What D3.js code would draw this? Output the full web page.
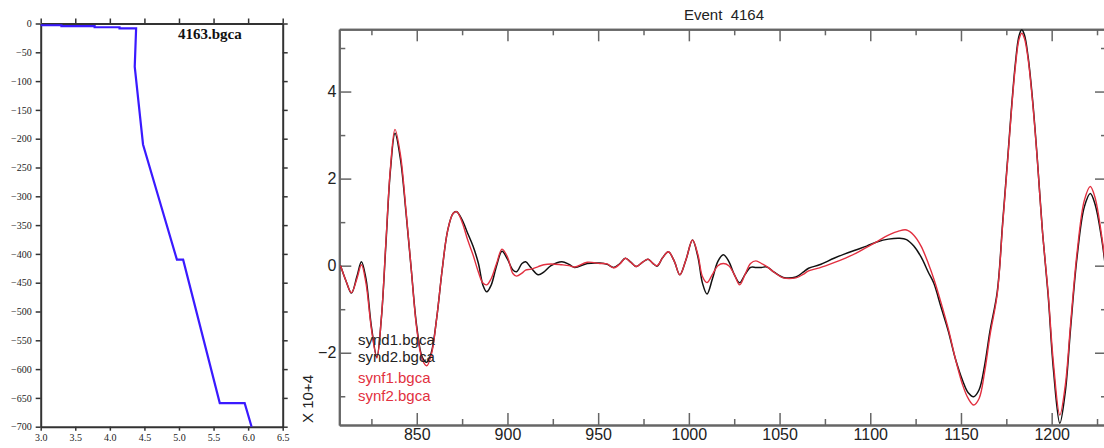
<!DOCTYPE html>
<html>
<head>
<meta charset="utf-8">
<script src="https://cdn.jsdelivr.net/npm/d3@7"></script>
<style>
  body { margin: 0; background: #fff; }
  svg { display: block; }
</style>
</head>
<body>
<div id="chart"></div>
<script>
// ---- data: velocity model (left) ----
const velocity = [3.0, 3.3, 3.3, 3.78, 3.78, 4.14, 4.14, 4.38, 4.36, 4.48, 4.70, 4.97, 5.06, 5.59, 5.95, 6.05];
const depth = [-3, -3, -4.5, -4.5, -6.5, -6.5, -8.5, -8.5, -75, -210, -300, -410, -410, -659, -659, -700];
const depthTicks = [0, -50, -100, -150, -200, -250, -300, -350, -400, -450, -500, -550, -600, -650, -700];
const velTicks = [3.0, 3.5, 4.0, 4.5, 5.0, 5.5, 6.0, 6.5];

// ---- data: waveforms (right), values x 10^4 ----
const time = [808, 811, 814, 817, 819.5, 822, 825, 828, 830.5, 833, 835.5, 838, 841, 844, 847, 850, 853, 855.5, 858, 861,
  864, 867, 870, 872, 875, 878, 881, 884, 886.5, 888.6, 891, 894, 897, 900, 903, 905, 908, 910, 913, 917,
  920, 924, 930, 934, 937, 944, 951, 955, 958.5, 962, 965, 968, 971, 974.5, 977.5, 980, 982.5, 985.5, 988.7, 992,
  995, 998.5, 1002, 1005, 1007.5, 1010, 1013, 1016, 1019, 1022, 1025, 1028, 1031, 1034, 1037, 1040, 1043, 1047, 1052, 1059,
  1063, 1066, 1072, 1080, 1086, 1092, 1098, 1104, 1110, 1116, 1120, 1124, 1128, 1132, 1135, 1139, 1143, 1147, 1151, 1154,
  1157, 1160, 1163, 1166, 1170, 1173, 1176, 1178, 1180, 1182, 1183.5, 1185, 1187, 1189.5, 1192, 1195, 1198, 1201, 1204.5, 1207.5,
  1210.5, 1214, 1218, 1221.3, 1224, 1227.5, 1231];
const synd = [0.00, -0.35, -0.63, -0.25, 0.09, -0.30, -1.40, -2.10, -1.20, 0.50, 2.20, 3.04, 2.45, 1.25, -0.10, -1.40, -2.10, -2.22, -2.00, -1.20,
  -0.10, 0.80, 1.20, 1.24, 1.05, 0.75, 0.45, 0.05, -0.45, -0.60, -0.45, 0.00, 0.33, 0.15, -0.10, -0.14, 0.05, 0.09, -0.05, -0.21,
  -0.15, 0.00, 0.09, 0.03, -0.04, 0.05, 0.06, 0.03, -0.04, 0.05, 0.17, 0.08, -0.02, 0.08, 0.15, 0.06, -0.01, 0.18, 0.32, 0.10,
  -0.21, 0.15, 0.59, 0.20, -0.40, -0.65, -0.30, 0.10, 0.25, 0.10, -0.20, -0.39, -0.20, -0.04, -0.04, -0.04, -0.03, -0.15, -0.27, -0.26,
  -0.15, -0.06, 0.02, 0.17, 0.27, 0.36, 0.45, 0.55, 0.61, 0.63, 0.60, 0.45, 0.20, -0.15, -0.40, -0.95, -1.50, -2.15, -2.65, -2.92,
  -3.01, -2.85, -2.30, -1.50, -0.60, 1.00, 2.60, 3.70, 4.65, 5.28, 5.42, 5.30, 4.80, 3.80, 2.50, 0.75, -0.65, -2.40, -3.62, -2.90,
  -1.40, 0.20, 1.35, 1.66, 1.40, 0.63, -0.50];
const synf = [0.00, -0.35, -0.62, -0.30, 0.02, -0.40, -1.45, -2.12, -1.20, 0.55, 2.25, 3.13, 2.55, 1.30, -0.10, -1.45, -2.15, -2.30, -2.05, -1.20,
  -0.10, 0.80, 1.20, 1.24, 1.00, 0.60, 0.25, -0.15, -0.40, -0.44, -0.30, 0.05, 0.38, 0.20, -0.18, -0.24, -0.17, -0.10, -0.08, -0.02,
  0.02, 0.04, 0.02, 0.00, -0.03, 0.08, 0.05, 0.04, -0.05, 0.04, 0.17, 0.08, -0.02, 0.08, 0.15, 0.06, 0.00, 0.18, 0.32, 0.10,
  -0.21, 0.15, 0.59, 0.25, -0.25, -0.39, -0.20, 0.00, 0.05, 0.00, -0.20, -0.44, -0.20, 0.05, 0.11, 0.05, -0.02, -0.15, -0.28, -0.28,
  -0.20, -0.12, -0.05, 0.07, 0.17, 0.28, 0.42, 0.56, 0.70, 0.80, 0.82, 0.70, 0.45, 0.05, -0.30, -0.85, -1.45, -2.15, -2.75, -3.05,
  -3.20, -3.05, -2.45, -1.60, -0.65, 0.95, 2.55, 3.65, 4.58, 5.20, 5.34, 5.22, 4.75, 3.75, 2.48, 0.75, -0.60, -2.25, -3.43, -2.75,
  -1.30, 0.30, 1.50, 1.82, 1.55, 0.70, -0.40];
const timeMajor = [850, 900, 950, 1000, 1050, 1100, 1150, 1200];
const timeMinor = [825, 875, 925, 975, 1025, 1075, 1125, 1175, 1225];
const ampMajor = [-2, 0, 2, 4];
const ampMinor = [-3, -1, 1, 3, 5];
const legendNames = ["synd1.bgca", "synd2.bgca", "synf1.bgca", "synf2.bgca"];
const legendColors = ["#222", "#222", "#e23040", "#e23040"];

const svg = d3.select("#chart").append("svg")
  .attr("width", 1104)
  .attr("height", 448);

// ================= left panel =================
const xL = d3.scaleLinear().domain([3, 6.5]).range([40.7, 282.7]);
const yL = d3.scaleLinear().domain([-700, 0]).range([426.7, 23.5]);
const left = svg.append("g").attr("font-family", "Liberation Serif, Times New Roman, serif");

const styleAxisL = (g) => {
  g.attr("font-family", "Liberation Serif, serif");
  g.select(".domain").attr("stroke", "#333").attr("stroke-width", 2);
  g.selectAll(".tick line").attr("stroke", "#333").attr("stroke-width", 1.5);
  g.selectAll(".tick text").attr("fill", "#222").attr("font-size", 10);
};

left.append("g").attr("transform", `translate(0,${yL(-700)})`)
  .call(d3.axisBottom(xL).tickValues(velTicks).tickFormat(d3.format(".1f")).tickSize(4).tickSizeOuter(0).tickPadding(3))
  .call(styleAxisL);
left.append("g").attr("transform", `translate(0,${yL(0)})`)
  .call(d3.axisTop(xL).tickValues(velTicks).tickFormat("").tickSize(5).tickSizeOuter(0))
  .call(styleAxisL);
left.append("g").attr("transform", `translate(${xL(3)},0)`)
  .call(d3.axisLeft(yL).tickValues(depthTicks).tickSize(5).tickSizeOuter(0).tickPadding(4))
  .call(styleAxisL);
left.append("g").attr("transform", `translate(${xL(6.5)},0)`)
  .call(d3.axisRight(yL).tickValues(depthTicks).tickFormat("").tickSize(5).tickSizeOuter(0))
  .call(styleAxisL);

left.append("path")
  .datum(d3.zip(velocity, depth))
  .attr("fill", "none")
  .attr("stroke", "#3a1aff")
  .attr("stroke-width", 2.2)
  .attr("d", d3.line().x((d) => xL(d[0])).y((d) => yL(d[1])));

left.append("text")
  .attr("x", 178).attr("y", 39)
  .attr("font-size", 15).attr("font-weight", "bold")
  .attr("fill", "#111")
  .text("4163.bgca");

// ================= right panel =================
const xR = d3.scaleLinear().domain([807.3, 1230.5]).range([339.3, 1107]);
const yR = d3.scaleLinear().domain([-3.66, 5.43]).range([425, 29.3]);
const right = svg.append("g").attr("font-family", "Liberation Sans Narrow, Liberation Sans, Arial, sans-serif");
const axisCol = "#666";

const styleAxisR = (g) => {
  g.attr("font-family", "Liberation Sans Narrow, Liberation Sans, sans-serif");
  g.select(".domain").attr("stroke", axisCol).attr("stroke-width", 2);
  g.selectAll(".tick line").attr("stroke", axisCol).attr("stroke-width", 1.5);
  g.selectAll(".tick text").attr("fill", "#222").attr("font-size", 16);
};

// bottom
right.append("g").attr("transform", `translate(0,${yR.range()[0]})`)
  .call(d3.axisBottom(xR).tickValues(timeMajor).tickFormat(d3.format("d")).tickSize(-12).tickSizeOuter(0).tickPadding(4))
  .call(styleAxisR);
right.append("g").attr("transform", `translate(0,${yR.range()[0]})`)
  .call(d3.axisBottom(xR).tickValues(timeMinor).tickFormat("").tickSize(-6).tickSizeOuter(0))
  .call(styleAxisR);
// top
right.append("g").attr("transform", `translate(0,${yR.range()[1]})`)
  .call(d3.axisTop(xR).tickValues(timeMajor).tickFormat("").tickSize(-12).tickSizeOuter(0))
  .call(styleAxisR);
right.append("g").attr("transform", `translate(0,${yR.range()[1]})`)
  .call(d3.axisTop(xR).tickValues(timeMinor).tickFormat("").tickSize(-6).tickSizeOuter(0))
  .call(styleAxisR);
// left
right.append("g").attr("transform", `translate(${xR.range()[0]},0)`)
  .call(d3.axisLeft(yR).tickValues(ampMajor).tickFormat(d3.format("d")).tickSize(-12).tickSizeOuter(0).tickPadding(3))
  .call(styleAxisR);
right.append("g").attr("transform", `translate(${xR.range()[0]},0)`)
  .call(d3.axisLeft(yR).tickValues(ampMinor).tickFormat("").tickSize(-6).tickSizeOuter(0))
  .call(styleAxisR);
// right
right.append("g").attr("transform", `translate(${xR.range()[1]},0)`)
  .call(d3.axisRight(yR).tickValues(ampMajor).tickFormat("").tickSize(-12).tickSizeOuter(0))
  .call(styleAxisR);
right.append("g").attr("transform", `translate(${xR.range()[1]},0)`)
  .call(d3.axisRight(yR).tickValues(ampMinor).tickFormat("").tickSize(-6).tickSizeOuter(0))
  .call(styleAxisR);

right.append("clipPath").attr("id", "clipR")
  .append("rect")
  .attr("x", xR.range()[0]).attr("y", yR.range()[1])
  .attr("width", xR.range()[1] - xR.range()[0])
  .attr("height", yR.range()[0] - yR.range()[1]);

const wave = d3.line().curve(d3.curveCatmullRom.alpha(0.5))
  .x((d) => xR(d[0])).y((d) => yR(d[1]));

const series = [
  { name: "synd", values: synd, color: "#111", width: 1.5 },
  { name: "synf", values: synf, color: "#e23040", width: 1.4 }
];
right.append("g").attr("clip-path", "url(#clipR)")
  .selectAll("path")
  .data(series)
  .join("path")
  .attr("fill", "none")
  .attr("stroke", (d) => d.color)
  .attr("stroke-width", (d) => d.width)
  .attr("d", (d) => wave(d3.zip(time, d.values)));

// title
right.append("text")
  .attr("x", 724).attr("y", 20)
  .attr("text-anchor", "middle")
  .attr("font-size", 15).attr("fill", "#222")
  .style("white-space", "pre")
  .text("Event  4164");

// scale label
right.append("text")
  .attr("transform", "translate(313,399) rotate(-90)")
  .attr("text-anchor", "middle")
  .attr("font-size", 15).attr("fill", "#222")
  .style("white-space", "pre")
  .text("X 10+4");

// legend
const legendY = [345, 362, 383, 401];
right.append("g")
  .selectAll("text")
  .data(legendNames)
  .join("text")
  .attr("x", 358)
  .attr("y", (d, i) => legendY[i])
  .attr("font-size", 15)
  .attr("fill", (d, i) => legendColors[i])
  .text((d) => d);
</script>
</body>
</html>
